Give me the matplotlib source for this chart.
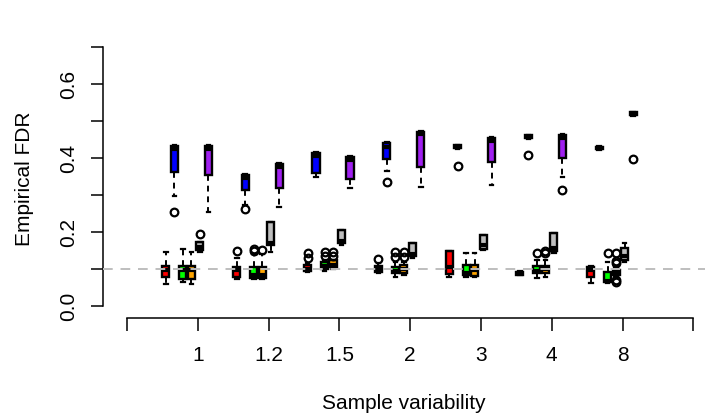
import numpy as np
import matplotlib
matplotlib.use("Agg")
import matplotlib.pyplot as plt

plt.rcParams['font.family'] = ['Liberation Sans', 'DejaVu Sans']

# groups on the x axis
groups = ["1", "1.2", "1.5", "2", "3", "4", "8"]

# box stats per group: [whislo, q1, med, q3, whishi]
red_stats = [[0.060, 0.078, 0.098, 0.108, 0.146],
             [0.072, 0.078, 0.097, 0.105, 0.130],
             [0.092, 0.095, 0.100, 0.110, 0.115],
             [0.089, 0.092, 0.100, 0.108, 0.115],
             [0.078, 0.086, 0.105, 0.150, 0.150],
             [0.083, 0.085, 0.089, 0.093, 0.095],
             [0.062, 0.078, 0.098, 0.105, 0.108]]
red_fliers = [[], [0.148], [0.130, 0.143], [0.127], [], [], []]

blue_stats = [[0.297, 0.362, 0.425, 0.432, 0.435],
              [0.273, 0.314, 0.345, 0.354, 0.356],
              [0.349, 0.359, 0.405, 0.413, 0.415],
              [0.365, 0.397, 0.430, 0.440, 0.442],
              [0.424, 0.426, 0.430, 0.434, 0.436],
              [0.451, 0.453, 0.457, 0.461, 0.463],
              [0.421, 0.423, 0.427, 0.431, 0.433]]
blue_fliers = [[0.253], [0.262], [], [0.335], [0.378], [0.408], []]

green_stats = [[0.065, 0.073, 0.098, 0.108, 0.154],
               [0.072, 0.076, 0.085, 0.105, 0.140],
               [0.095, 0.100, 0.108, 0.118, 0.125],
               [0.078, 0.089, 0.095, 0.105, 0.120],
               [0.078, 0.084, 0.090, 0.110, 0.143],
               [0.076, 0.089, 0.095, 0.108, 0.125],
               [0.062, 0.065, 0.068, 0.092, 0.119]]
green_fliers = [[], [0.150, 0.155], [0.135, 0.145], [0.132, 0.146], [], [0.143], [0.143]]

orange_stats = [[0.060, 0.073, 0.098, 0.108, 0.146],
                [0.072, 0.076, 0.085, 0.105, 0.140],
                [0.100, 0.105, 0.110, 0.125, 0.125],
                [0.083, 0.088, 0.100, 0.110, 0.120],
                [0.078, 0.082, 0.098, 0.110, 0.143],
                [0.079, 0.089, 0.100, 0.108, 0.125],
                [0.078, 0.085, 0.090, 0.098, 0.105]]
orange_fliers = [[], [0.152], [0.135, 0.145], [0.132, 0.146], [],
                 [0.143, 0.150], [0.142, 0.122, 0.115, 0.070, 0.065]]

gray_stats = [[0.146, 0.151, 0.160, 0.173, 0.173],
              [0.146, 0.165, 0.170, 0.227, 0.227],
              [0.165, 0.170, 0.175, 0.205, 0.205],
              [0.130, 0.135, 0.140, 0.170, 0.170],
              [0.151, 0.155, 0.165, 0.192, 0.192],
              [0.143, 0.149, 0.158, 0.197, 0.197],
              [0.119, 0.124, 0.135, 0.157, 0.170]]
gray_fliers = [[0.195], [], [], [], [], [], []]

purple_stats = [[0.254, 0.354, 0.425, 0.432, 0.435],
                [0.268, 0.319, 0.375, 0.384, 0.386],
                [0.319, 0.343, 0.395, 0.403, 0.405],
                [0.322, 0.376, 0.465, 0.470, 0.472],
                [0.327, 0.390, 0.445, 0.454, 0.456],
                [0.349, 0.400, 0.455, 0.462, 0.464],
                [0.513, 0.515, 0.519, 0.523, 0.525]]
purple_fliers = [[], [], [], [], [], [0.314], [0.397]]

series = [(red_stats, red_fliers, "#FF0000", -0.45),
          (blue_stats, blue_fliers, "#0000FF", -0.33),
          (green_stats, green_fliers, "#00FF00", -0.21),
          (orange_stats, orange_fliers, "#FFA500", -0.09),
          (gray_stats, gray_fliers, "#BEBEBE", 0.03),
          (purple_stats, purple_fliers, "#A020F0", 0.15)]

W, H = 705, 419
fig = plt.figure(figsize=(W / 100, H / 100), dpi=100)
# plot region in pixels: left 103, right 705, top 40, bottom 318
ax = fig.add_axes([103 / W, (H - 318) / H, (W - 103) / W, (318 - 40) / H])

for stats, fliers, col, off in series:
    bx = []
    for s, f in zip(stats, fliers):
        bx.append(dict(whislo=s[0], q1=s[1], med=s[2], q3=s[3], whishi=s[4], fliers=f))
    pos = np.arange(1, len(groups) + 1) + off
    ax.bxp(bx, positions=pos, widths=0.1, patch_artist=True, manage_ticks=False,
           boxprops=dict(facecolor=col, edgecolor="black", linewidth=1.7),
           medianprops=dict(color="black", linewidth=3.0, solid_capstyle="butt"),
           whiskerprops=dict(color="black", linewidth=1.4, linestyle=(0, (3, 2.5))),
           capprops=dict(color="black", linewidth=1.6),
           capwidths=0.05,
           flierprops=dict(marker="o", markerfacecolor="none", markeredgecolor="black",
                           markersize=5.5, markeredgewidth=1.6))

# reference line at 0.1
ax.axhline(0.1, color="#BEBEBE", linewidth=1.4, linestyle=(0, (5, 4)), zorder=10)

ax.set_xlim(-0.339, 8.164)
ax.set_ylim(-0.0324, 0.7189)

for sp in ["top", "right"]:
    ax.spines[sp].set_visible(False)
ax.spines["left"].set_bounds(0, 0.7)
ax.spines["bottom"].set_bounds(0, 8)
ax.spines["left"].set_linewidth(1.1)
ax.spines["bottom"].set_linewidth(1.1)

ax.set_xticks(np.arange(0, 9))
ax.set_xticklabels([""] + groups + [""], fontsize=15)
yt = np.round(np.arange(0, 0.71, 0.1), 1)
ax.set_yticks(yt)
ax.set_yticklabels(["%.1f" % v if i % 2 == 0 else "" for i, v in enumerate(yt)],
                   rotation=90, va="center", fontsize=15)
ax.tick_params(axis="x", length=9, width=1.1, pad=11)
ax.tick_params(axis="y", length=9, width=1.1, pad=9)

ax.set_xlabel("Sample variability", fontsize=15, labelpad=21)
ax.set_ylabel("Empirical FDR", fontsize=15, labelpad=18)

fig.savefig("out.png", dpi=100)
